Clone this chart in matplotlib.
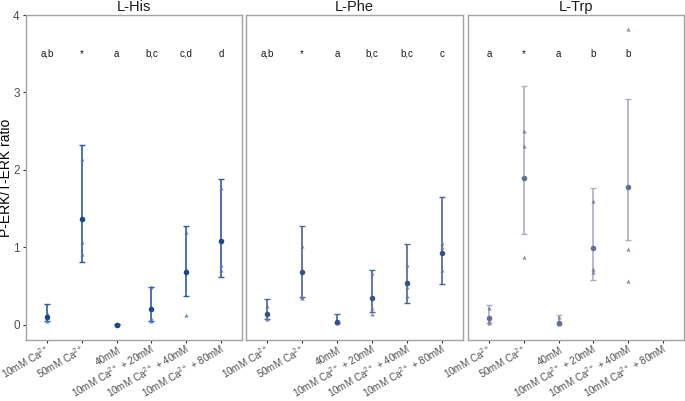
import matplotlib
matplotlib.use("Agg")
import matplotlib.pyplot as plt
from matplotlib.transforms import ScaledTranslation, blended_transform_factory

plt.rcParams['font.family'] = ['Liberation Sans', 'DejaVu Sans']
plt.rcParams['mathtext.fontset'] = 'custom'
plt.rcParams['mathtext.rm'] = 'Liberation Sans'
plt.rcParams['mathtext.it'] = 'Liberation Sans:italic'
plt.rcParams['mathtext.bf'] = 'Liberation Sans:bold'

categories = ["10mM Ca$^{2+}$", "50mM Ca$^{2+}$", "40mM",
              "10mM Ca$^{2+}$ + 20mM", "10mM Ca$^{2+}$ + 40mM", "10mM Ca$^{2+}$ + 80mM"]
panels = ["L-His", "L-Phe", "L-Trp"]

# means, error-bar lower/upper, replicate values, significance letters
his_mean = [0.10, 1.37, 0.00, 0.20, 0.68, 1.08]
his_low = [0.04, 0.81, 0.00, 0.05, 0.37, 0.62]
his_high = [0.26, 2.32, 0.01, 0.49, 1.27, 1.88]
his_reps = [[0.15, 0.10, 0.04], [2.14, 1.07, 0.91], [0.0, 0.0, 0.01],
            [0.48, 0.09, 0.05], [1.20, 0.72, 0.12], [1.77, 0.77, 0.70]]
his_letters = ["a,b", "*", "a", "b,c", "c,d", "d"]

phe_mean = [0.13, 0.68, 0.03, 0.34, 0.54, 0.93]
phe_low = [0.07, 0.36, 0.02, 0.16, 0.28, 0.52]
phe_high = [0.33, 1.27, 0.13, 0.71, 1.04, 1.65]
phe_reps = [[0.24, 0.07, 0.08], [1.02, 0.34, 0.36], [0.06, 0.03, 0.02],
            [0.66, 0.22, 0.13], [0.77, 0.48, 0.37], [1.06, 1.00, 0.71]]
phe_letters = ["a,b", "*", "a", "b,c", "b,c", "c"]

trp_mean = [0.09, 1.89, 0.02, 0.99, 1.78, None]
trp_low = [0.02, 1.17, 0.01, 0.57, 1.09, None]
trp_high = [0.25, 3.08, 0.12, 1.76, 2.92, None]
trp_reps = [[0.22, 0.05, 0.02], [2.50, 2.31, 0.87], [0.10, 0.03, 0.01],
            [1.59, 0.72, 0.68], [3.82, 0.98, 0.56], []]
trp_letters = ["a", "*", "a", "b", "b", ""]

data = [(his_mean, his_low, his_high, his_reps, his_letters),
        (phe_mean, phe_low, phe_high, phe_reps, phe_letters),
        (trp_mean, trp_low, trp_high, trp_reps, trp_letters)]

bar_colors = ["#2f5c9c", "#4c6594", "#a9b0c6"]
mean_colors = ["#1e4884", "#3a5283", "#656e90"]
rep_colors = ["#4f78b4", "#6479a3", "#6f7898"]

fig = plt.figure(figsize=(6.85, 4.01), dpi=100)
W, H = 685, 401
boxes = [(26, 242), (246, 463), (468, 684)]
top_px, bot_px = 15, 340
label_offset = ScaledTranslation(4.5 / 100, -12 / 100, fig.dpi_scale_trans)

for i, (name, (mean, low, high, reps, letters)) in enumerate(zip(panels, data)):
    x0, x1 = boxes[i]
    ax = fig.add_axes([x0 / W, 1 - bot_px / H, (x1 - x0) / W, (bot_px - top_px) / H])
    for j in range(len(categories)):
        if mean[j] is None:
            continue
        ax.errorbar([j], [mean[j]], yerr=[[mean[j] - low[j]], [high[j] - mean[j]]],
                    fmt='none', ecolor=bar_colors[i], elinewidth=1.2, capsize=2,
                    capthick=1.0, zorder=2)
        ax.plot([j] * len(reps[j]), reps[j], linestyle='none', marker='^',
                markersize=3, color=rep_colors[i], alpha=0.8,
                markeredgewidth=0, zorder=3)
        ax.plot([j], [mean[j]], linestyle='none', marker='o', markersize=4,
                color=mean_colors[i], markeredgewidth=0, zorder=4)
    for j, lab in enumerate(letters):
        if lab:
            ax.text(j, 3.5, lab, ha='center', va='center', fontsize=7, color='#1a1a1a')
    ax.set_xlim(-0.6, 5.6)
    ax.set_ylim(-0.2, 4.0)
    ax.set_xticks(range(len(categories)))
    ax.set_xticklabels([])
    ax.tick_params(axis='x', length=2.5, width=0.8, color='#333333')
    trans = blended_transform_factory(ax.transData, ax.transAxes) + label_offset
    for j, cat in enumerate(categories):
        ax.text(j, 0, cat, transform=trans, rotation=30, ha='right', va='baseline',
                rotation_mode='anchor', fontsize=7.1, color='#4d4d4d', clip_on=False)
    if i == 0:
        ax.set_yticks([0, 1, 2, 3, 4])
        ax.set_yticklabels(["0", "1", "2", "3", "4"], fontsize=8.5, color='#4d4d4d')
        ax.tick_params(axis='y', length=2.5, width=0.8, color='#333333', pad=2)
        ax.set_ylabel("P-ERK/T-ERK ratio", fontsize=10, color='black')
        ax.yaxis.set_label_coords(-0.06, 0.5)
    else:
        ax.set_yticks([])
    for sp in ax.spines.values():
        sp.set_color('#a3a3a3')
        sp.set_linewidth(1.0)
    ax.set_title(name, fontsize=10.5, color='#1a1a1a', pad=3)

fig.savefig("out.png", dpi=100)
